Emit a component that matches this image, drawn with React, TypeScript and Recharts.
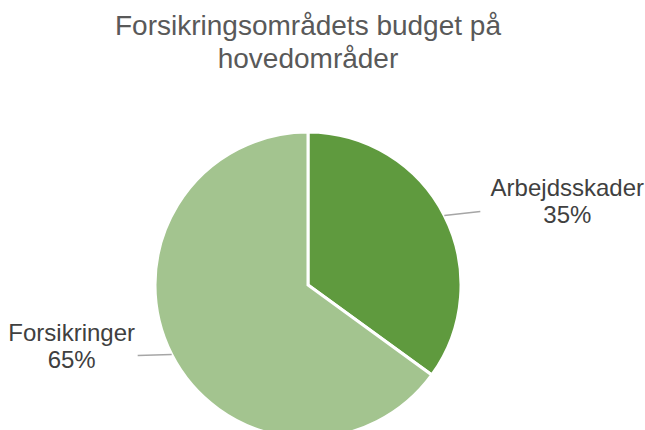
import React from "react";
import { PieChart, Pie, Cell } from "recharts";

const categories = ["Arbejdsskader", "Forsikringer"];
const values = [35, 65];
const colors = ["#5f9a3e", "#a3c48f"];
const titleLines = ["Forsikringsområdets budget på", "hovedområder"];

const data = categories.map((name, i) => ({ name, value: values[i] }));

const RAD = Math.PI / 180;
const FONT = "'Liberation Sans', Arial, sans-serif";

const renderLabel = (props: any) => {
  const { cx, cy, midAngle, outerRadius, name, percent } = props;
  const x0 = cx + outerRadius * Math.cos(-midAngle * RAD);
  const y0 = cy + outerRadius * Math.sin(-midAngle * RAD);
  const right = x0 > cx;
  const x1 = right ? x0 + 36 : x0 - 34;
  const y1 = right ? y0 - 4 : y0 + 1;
  const tx = right ? x0 + 123 : x0 - 100;
  const ty = right ? y0 - 19.5 : y0 - 13.5;
  return (
    <g>
      <polyline
        points={`${x0},${y0} ${x1},${y1}`}
        fill="none"
        stroke="#a6a6a6"
        strokeWidth={1.5}
      />
      <text x={tx} y={ty} textAnchor="middle" fill="#404040" fontSize={24} fontFamily={FONT}>
        {name}
      </text>
      <text x={tx} y={ty + 27} textAnchor="middle" fill="#404040" fontSize={24} fontFamily={FONT}>
        {`${Math.round(percent * 100)}%`}
      </text>
    </g>
  );
};

export default function App() {
  return (
    <div style={{ position: "absolute", left: 0, top: 0, width: 645, height: 430, background: "#fff" }}>
      <PieChart width={645} height={430} margin={{ top: 0, right: 0, bottom: 0, left: 0 }}>
        <text x={308} y={35} textAnchor="middle" fill="#595959" fontSize={28} fontFamily={FONT}>
          {titleLines[0]}
        </text>
        <text x={308} y={68} textAnchor="middle" fill="#595959" fontSize={28} fontFamily={FONT}>
          {titleLines[1]}
        </text>
        <Pie
          data={data}
          dataKey="value"
          nameKey="name"
          cx={308}
          cy={285}
          outerRadius={153}
          startAngle={90}
          endAngle={-270}
          stroke="#ffffff"
          strokeWidth={3}
          label={renderLabel}
          labelLine={false}
          isAnimationActive={false}
        >
          {data.map((d, i) => (
            <Cell key={d.name} fill={colors[i]} />
          ))}
        </Pie>
      </PieChart>
    </div>
  );
}
